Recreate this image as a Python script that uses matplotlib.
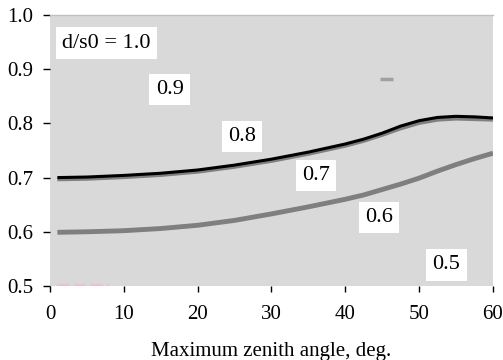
import matplotlib.pyplot as plt

# data
angle = [1, 5, 10, 15, 20, 25, 30, 35, 40, 42.5, 45, 47.5, 50, 52.5, 55, 57.5, 60]
curve_08 = [0.700, 0.701, 0.704, 0.708, 0.714, 0.723, 0.734, 0.747, 0.762, 0.771, 0.782, 0.795, 0.805, 0.811, 0.813, 0.812, 0.810]
curve_08_shadow = [0.697, 0.698, 0.701, 0.705, 0.711, 0.720, 0.731, 0.744, 0.759, 0.768, 0.779, 0.791, 0.801, 0.807, 0.809, 0.808, 0.807]
curve_06 = [0.599, 0.600, 0.602, 0.606, 0.612, 0.621, 0.633, 0.646, 0.660, 0.668, 0.678, 0.688, 0.699, 0.712, 0.724, 0.735, 0.745]

label_text = ["d/s0 = 1.0", "0.9", "0.8", "0.7", "0.6", "0.5"]
label_x = [7.6, 16.2, 26.0, 36.0, 44.6, 53.7]
label_y = [0.948, 0.863, 0.776, 0.704, 0.626, 0.539]

# small stray marks in the original
dash_x = [44.7, 46.4]
dash_y = [0.881, 0.881]
pink_x = [1.0, 8.0]
pink_y = [0.5025, 0.5025]

xticks = [0, 10, 20, 30, 40, 50, 60]
yticks = [0.5, 0.6, 0.7, 0.8, 0.9, 1.0]

plt.rcParams['font.family'] = ['Liberation Serif', 'DejaVu Serif']

fig = plt.figure(figsize=(5.03, 3.6), dpi=100)
ax = fig.add_axes([0.0994, 0.2056, 0.8807, 0.7528])
ax.set_facecolor('#d9d9d9')

ax.plot(angle, curve_08_shadow, color='#808080', lw=3.0, solid_capstyle='butt')
ax.plot(angle, curve_08, color='black', lw=2.2, solid_capstyle='butt')
ax.plot(angle, curve_06, color='#7f7f7f', lw=3.5, solid_capstyle='butt')
ax.plot(dash_x, dash_y, color='#a0a0a0', lw=2.5, solid_capstyle='butt')
ax.plot(pink_x, pink_y, color='#e8c4c8', lw=1.5, ls=(0, (6, 2)))

for t, x, y in zip(label_text, label_x, label_y):
    ax.text(x, y, t, fontsize=16, ha='center', va='center',
            bbox=dict(facecolor='white', edgecolor='none', pad=4.5))

ax.set_xlim(0, 60)
ax.set_ylim(0.5, 1.0)
ax.set_xticks(xticks)
ax.set_yticks(yticks)
ax.set_xticklabels([str(v) for v in xticks])
ax.set_yticklabels([f"{v:.1f}" for v in yticks])
ax.tick_params(axis='both', direction='out', labelsize=15, width=1, color='black')
ax.tick_params(axis='x', length=4, pad=10)
ax.tick_params(axis='y', length=5, pad=7)

for side in ['left', 'bottom', 'right']:
    ax.spines[side].set_visible(False)
ax.spines['top'].set_color('#c0c0c0')
ax.spines['top'].set_linewidth(1)

ax.set_xlabel("Maximum zenith angle, deg.", fontsize=15)
ax.xaxis.set_label_coords(0.5, -0.205)

fig.savefig("out.png", dpi=100)
